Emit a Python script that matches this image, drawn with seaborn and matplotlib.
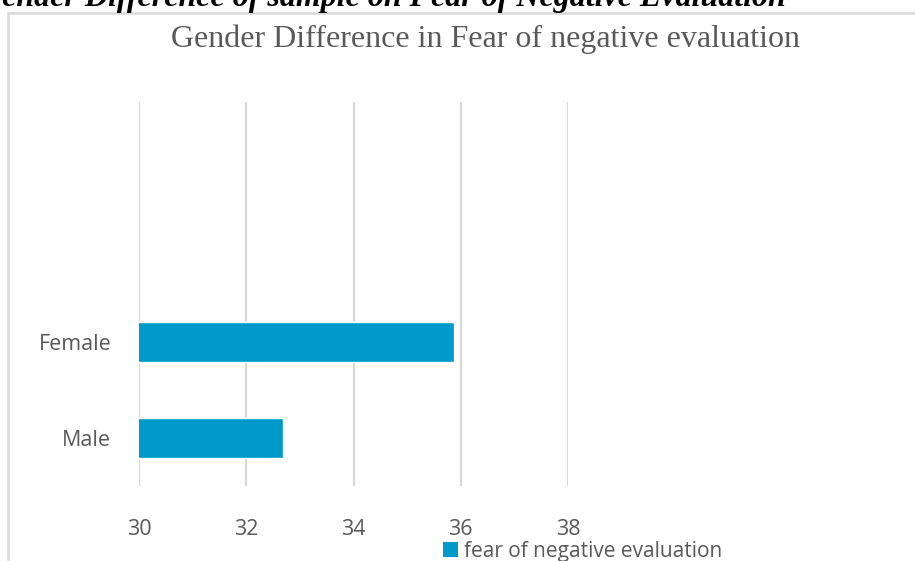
import matplotlib
matplotlib.use("Agg")
import matplotlib.pyplot as plt
import pandas as pd
import seaborn as sns
from matplotlib.lines import Line2D
from matplotlib.patches import Patch

# data
genders = ["Female", "Male"]
fne_scores = [35.88, 32.69]
series_name = "fear of negative evaluation"
x_ticks = [30, 32, 34, 36, 38]

sns.set_theme(style="white")
plt.rcParams["font.family"] = ["Open Sans", "DejaVu Sans"]

W, H = 915, 561
fig = plt.figure(figsize=(W / 100, H / 100), dpi=100)
ax = fig.add_axes([139 / W, 1 - 486 / H, (568 - 139) / W, (486 - 102) / H])

df = pd.DataFrame({"gender": genders, "score": fne_scores})
blue = "#0099CC"
sns.barplot(data=df, x="score", y="gender", order=genders, orient="h",
            color=blue, width=0.41, saturation=1, ax=ax)

# axis 30..38, two empty category slots above (like the excel chart)
ax.set_xlim(30, 38)
ax.set_ylim(1.5, -2.5)
ax.set_xticks(x_ticks)
ax.set_xlabel("")
ax.set_ylabel("")
ax.grid(axis="x", color="#d9d9d9", linewidth=1.6)
ax.set_axisbelow(True)
for s in ax.spines.values():
    s.set_visible(False)
ax.tick_params(axis="x", length=0, pad=24, labelsize=15.5, labelcolor="#595959")
ax.tick_params(axis="y", length=0, pad=20, labelsize=15.5, labelcolor="#595959")

# chart title
fig.text(486 / W, 1 - 47 / H, "Gender Difference in Fear of negative evaluation",
         ha="center", va="baseline", family="Liberation Serif", fontsize=23,
         color="#595959")

# caption from the document, cut off at the top edge
fig.text(-21 / W, 1 - 6 / H, "Gender Difference of sample on Fear of Negative Evaluation",
         ha="left", va="baseline", family="Liberation Serif", fontsize=23,
         fontweight="bold", style="italic", color="black")

# chart frame (only top and left visible in the crop)
fig.add_artist(Line2D([8 / W, 1.0], [1 - 13 / H, 1 - 13 / H],
                      transform=fig.transFigure, color="#d9d9d9", linewidth=1.8))
fig.add_artist(Line2D([8 / W, 8 / W], [1 - 13 / H, 0.0],
                      transform=fig.transFigure, color="#d9d9d9", linewidth=1.8))

handles = [Patch(facecolor=blue, edgecolor="none")]
leg = ax.legend(handles, [series_name], loc="center",
                bbox_to_anchor=(583 / W, 1 - 551 / H), bbox_transform=fig.transFigure,
                frameon=False, fontsize=15, handlelength=0.7, handleheight=0.7,
                handletextpad=0.3, borderpad=0)
for t in leg.get_texts():
    t.set_color("#595959")

fig.savefig("out.png", dpi=100)
